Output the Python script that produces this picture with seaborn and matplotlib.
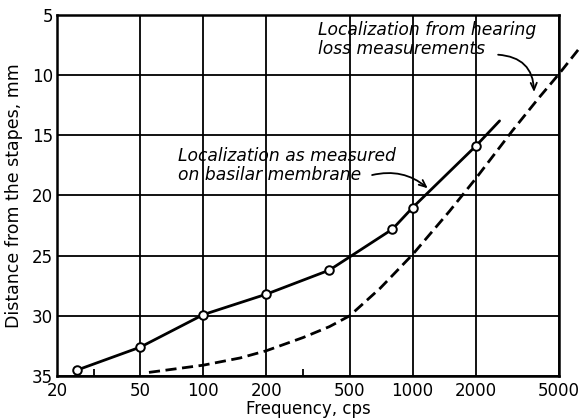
import matplotlib
matplotlib.use("Agg")
import matplotlib.pyplot as plt
from matplotlib.ticker import FixedLocator, NullFormatter, FixedFormatter
import seaborn as sns
import pandas as pd

# --- data ---
membrane_freq = [25, 50, 100, 200, 400, 800, 1000, 2000]
membrane_mm = [34.5, 32.6, 29.9, 28.2, 26.2, 22.8, 21.0, 15.9]
membrane_ext_freq = [2600]
membrane_ext_mm = [13.8]
hearing_freq = [55, 100, 150, 200, 300, 400, 500, 700, 1000, 1500, 2000, 3000, 4000, 5000, 6300]
hearing_mm = [34.7, 34.1, 33.5, 32.9, 31.8, 30.9, 30.0, 27.7, 24.9, 21.3, 18.6, 14.6, 11.9, 9.9, 7.7]
x_ticks = [20, 50, 100, 200, 500, 1000, 2000, 5000]
x_tick_labels = ["20", "50", "100", "200", "500", "1000", "2000", "5000"]
x_minor = [30, 300]
y_ticks = [5, 10, 15, 20, 25, 30, 35]

sns.set_style("white")
plt.rcParams["font.family"] = ["DejaVu Sans"]
plt.rcParams["text.color"] = "black"
plt.rcParams["axes.labelcolor"] = "black"

fig = plt.figure(figsize=(5.85, 4.2), dpi=100)
ax = fig.add_axes([57 / 585, 1 - 376 / 420, (559 - 57) / 585, (376 - 15) / 420])

line_df = pd.DataFrame({"freq": membrane_freq + membrane_ext_freq,
                        "mm": membrane_mm + membrane_ext_mm})
pts_df = pd.DataFrame({"freq": membrane_freq, "mm": membrane_mm})
hear_df = pd.DataFrame({"freq": hearing_freq, "mm": hearing_mm})

sns.lineplot(data=line_df, x="freq", y="mm", ax=ax, color="black", lw=2.0,
             estimator=None, sort=True, zorder=4)
sns.lineplot(data=hear_df, x="freq", y="mm", ax=ax, color="black", lw=2.0,
             estimator=None, sort=True, linestyle=(0, (4, 2)), clip_on=False, zorder=4)
sns.scatterplot(data=pts_df, x="freq", y="mm", ax=ax, s=38, facecolor="white",
                edgecolor="black", linewidth=1.4, zorder=5)

ax.set_xscale("log")
ax.set_xlim(20, 5000)
ax.set_ylim(35, 5)
ax.xaxis.set_major_locator(FixedLocator(x_ticks))
ax.xaxis.set_major_formatter(FixedFormatter(x_tick_labels))
ax.xaxis.set_minor_locator(FixedLocator(x_minor))
ax.xaxis.set_minor_formatter(NullFormatter())
ax.set_yticks(y_ticks)
ax.set_yticklabels([str(v) for v in y_ticks])

ax.grid(True, which="major", color="black", lw=1.3)
ax.tick_params(axis="both", which="major", length=0, labelsize=12, colors="black")
ax.tick_params(axis="x", which="major", pad=4)
ax.tick_params(axis="y", which="major", pad=3)
ax.tick_params(axis="x", which="minor", direction="in", length=5, width=1.3,
               bottom=True, top=False, color="black")
for sp in ax.spines.values():
    sp.set_color("black")
    sp.set_linewidth(1.8)

ax.set_xlabel("Frequency, cps", fontsize=12, labelpad=0, color="black")
ax.set_ylabel("Distance from the stapes, mm", fontsize=12.5, labelpad=6, color="black")

# annotations
ax.text(352, 5.5, "Localization from hearing\nloss measurements", fontsize=12.3,
        style="italic", ha="left", va="top", linespacing=1.05, color="black")
ax.text(76, 16.0, "Localization as measured\non basilar membrane", fontsize=12.3,
        style="italic", ha="left", va="top", linespacing=1.05, color="black")

ax.annotate("", xy=(3800, 11.4), xytext=(2560, 8.3),
            arrowprops=dict(arrowstyle="->,head_length=0.5,head_width=0.22",
                            color="black", lw=1.3,
                            connectionstyle="arc3,rad=-0.45",
                            shrinkA=0, shrinkB=0))
ax.annotate("", xy=(1180, 19.4), xytext=(640, 18.3),
            arrowprops=dict(arrowstyle="->,head_length=0.5,head_width=0.22",
                            color="black", lw=1.3,
                            connectionstyle="arc3,rad=-0.25",
                            shrinkA=0, shrinkB=0))

fig.savefig("out.png", dpi=100, facecolor="white")
